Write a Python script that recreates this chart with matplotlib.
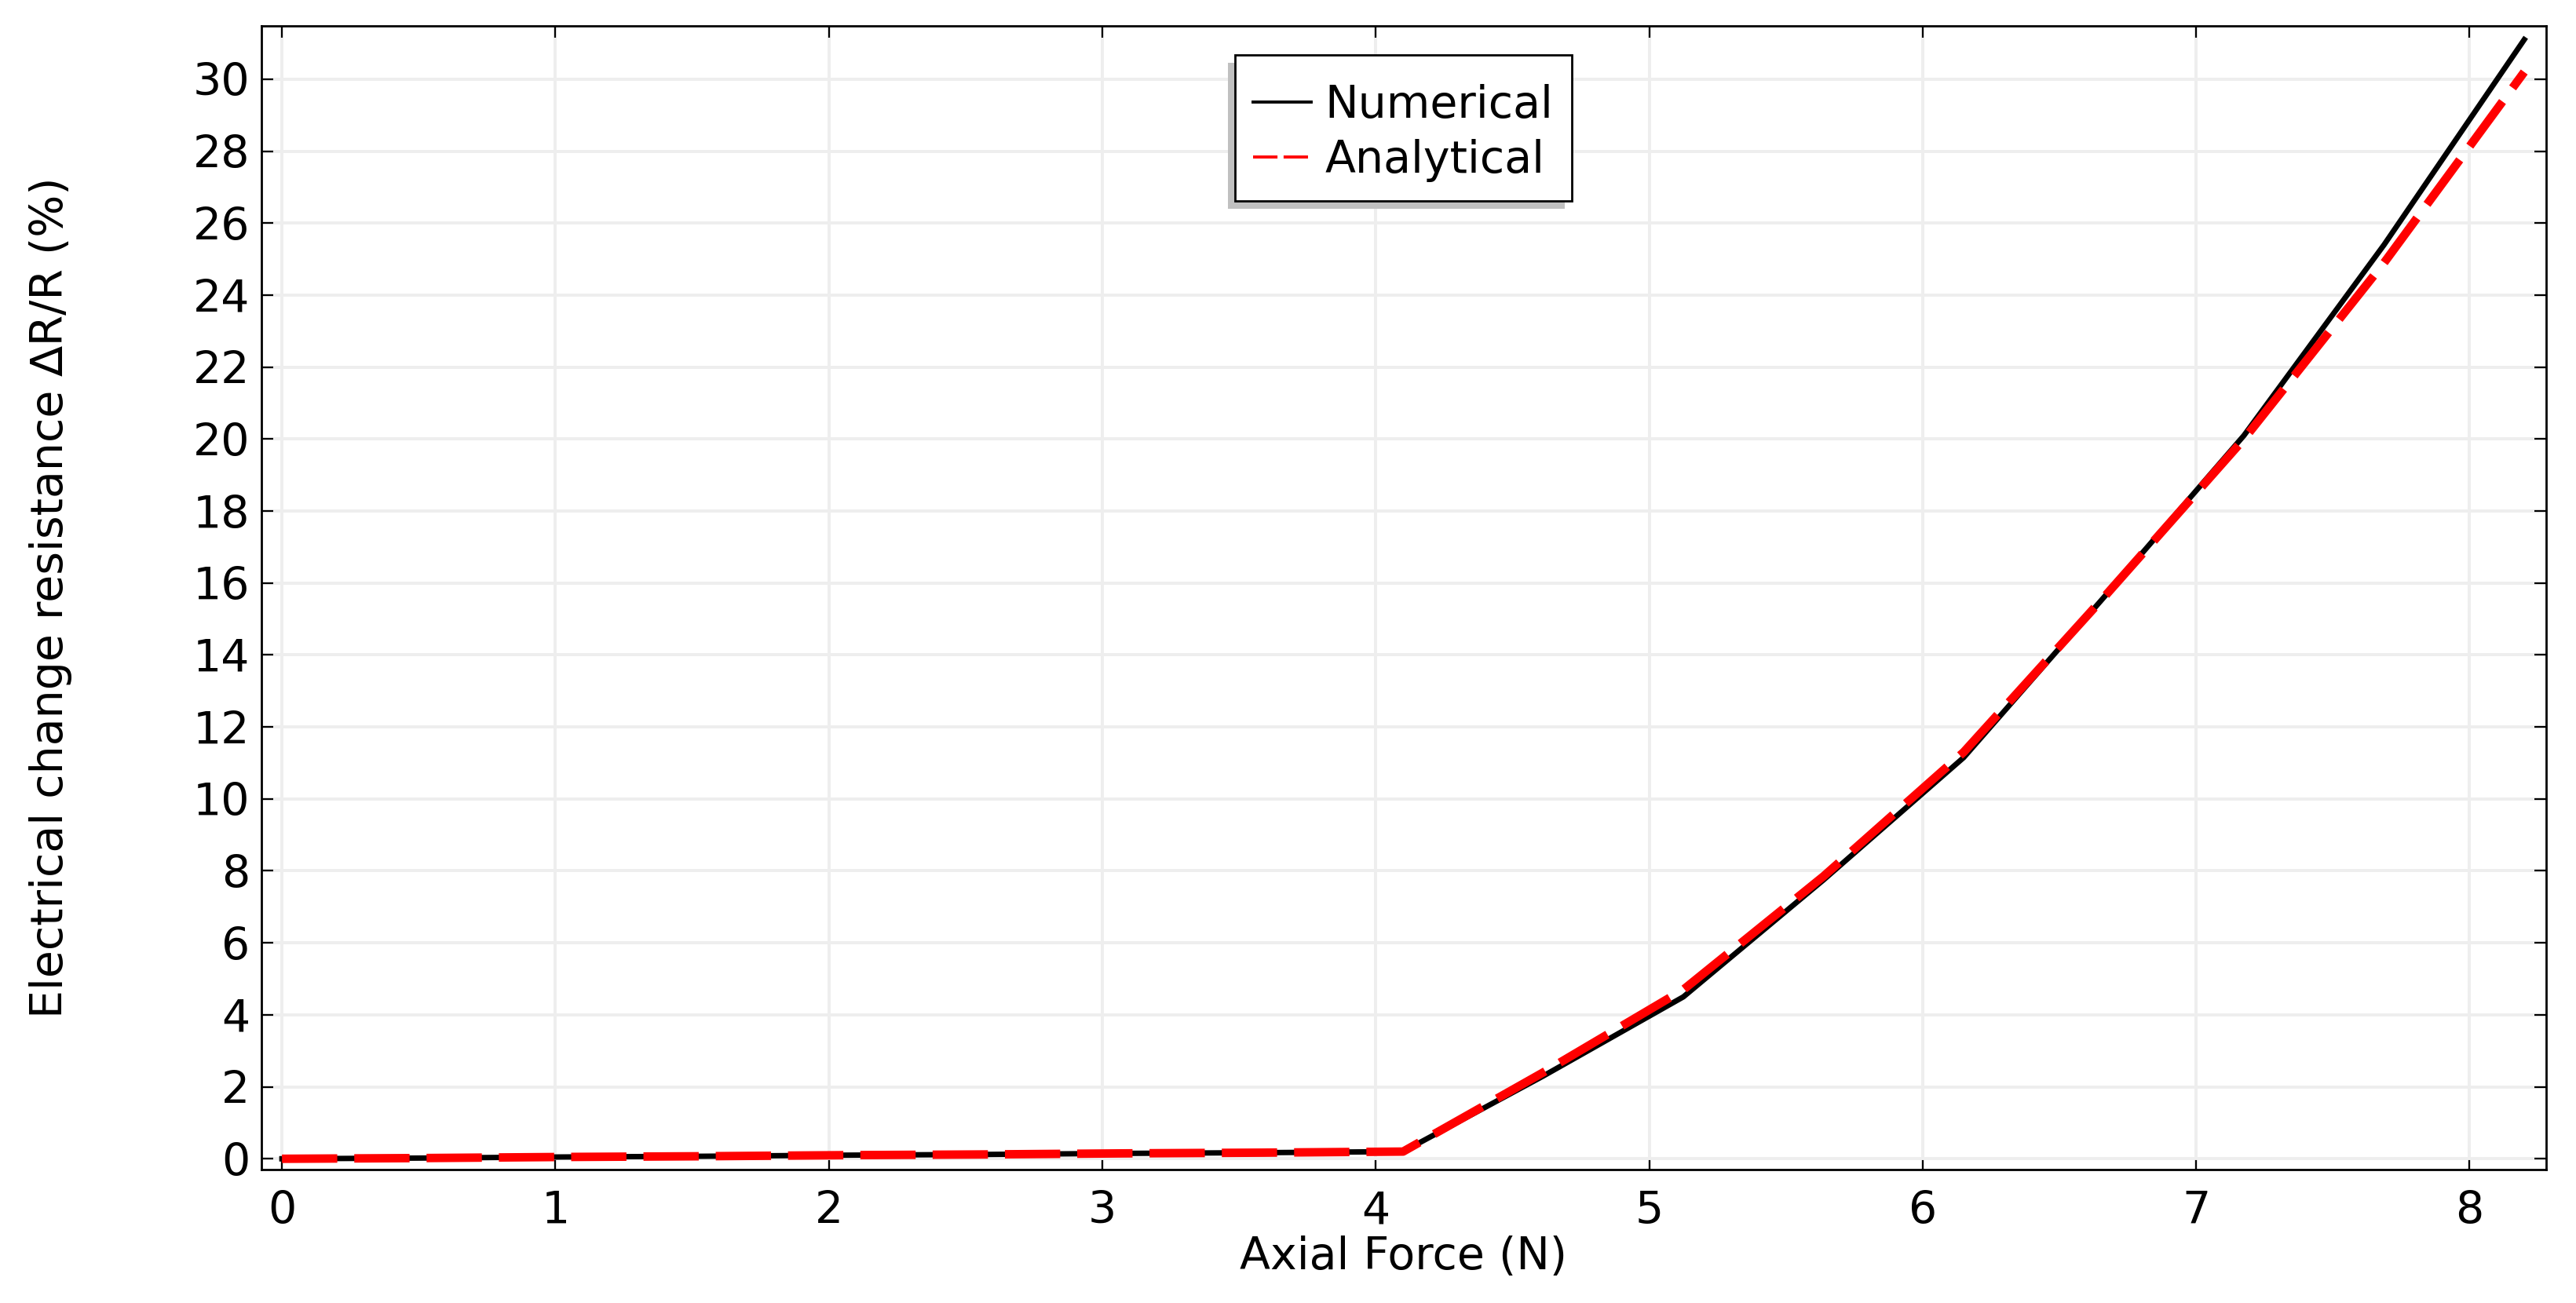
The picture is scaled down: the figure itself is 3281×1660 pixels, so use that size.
import matplotlib
matplotlib.use("Agg")
import matplotlib.pyplot as plt
from matplotlib.lines import Line2D
from matplotlib.patches import Rectangle

# axial force (N)
force = [0.0, 0.5125, 1.025, 1.5375, 2.05, 2.5625, 3.075, 3.5875, 4.1,
         4.6125, 5.125, 5.6375, 6.15, 6.6625, 7.175, 7.6875, 8.2]
# electrical change of resistance dR/R (%)
numerical = [0.0, 0.02, 0.05, 0.07, 0.1, 0.12, 0.15, 0.17, 0.2,
             2.3, 4.5, 7.75, 11.15, 15.6, 20.1, 25.4, 31.1]
analytical = [0.0, 0.02, 0.05, 0.07, 0.1, 0.12, 0.15, 0.17, 0.2,
              2.4, 4.7, 7.85, 11.3, 15.6, 20.0, 24.9, 30.2]

x_ticks = list(range(0, 9))
y_ticks = list(range(0, 31, 2))

FS = 20.5
plt.rcParams['font.family'] = ['DejaVu Sans']

fig = plt.figure(figsize=(16.405, 8.3), dpi=200)
ax = fig.add_axes([0.1015, 0.1024, 0.8869, 0.8777])

ax.plot(force, numerical, color='black', lw=2.5, zorder=3)
ax.plot(force, analytical, color='red', lw=3.9, linestyle=(0, (6.5, 2.0)), zorder=4)

ax.set_xlim(-0.075, 8.28)
ax.set_ylim(-0.3, 31.48)
ax.set_xticks(x_ticks)
ax.set_yticks(y_ticks)
ax.grid(True, color='#eeeeee', lw=1.4, zorder=0)
ax.set_axisbelow(True)

ax.tick_params(direction='in', top=True, right=True, length=5.4, width=0.8,
               labelsize=FS, colors='black')
ax.tick_params(axis='x', pad=9.4)
ax.tick_params(axis='y', pad=5.4)
for s in ax.spines.values():
    s.set_linewidth(1.0)

ax.set_xlabel("Axial Force (N)", fontsize=FS)
ax.set_ylabel("Electrical change resistance \u2206R/R (%)", fontsize=FS)
ax.xaxis.set_label_coords(0.5, -0.0577)
ax.yaxis.set_label_coords(-0.0828, 0.5)

handles = [
    Line2D([], [], color='black', lw=1.4),
    Line2D([], [], color='red', lw=1.4, linestyle=(0, (8, 2))),
]
leg = ax.legend(handles, ["Numerical", "Analytical"], loc='upper center',
                bbox_to_anchor=(0.4997, 0.9492), borderaxespad=0, fontsize=FS,
                frameon=False, handlelength=1.3, handletextpad=0.3,
                borderpad=0, labelspacing=0.27)
leg.set_zorder(7)

# frame + drop shadow (lower left) drawn by hand, pads in pixels
fig.canvas.draw()
bb = leg.get_window_extent()
pad_l, pad_r, pad_t, pad_b = 23, 24, 37, 24
x0 = bb.x0 - pad_l
y0 = bb.y0 - pad_b
w = bb.width + pad_l + pad_r
h = bb.height + pad_t + pad_b
inv = ax.transAxes.inverted()
(ax0, ay0), (ax1, ay1) = inv.transform([(x0, y0), (x0 + w, y0 + h)])
sx = -9 / ax.bbox.width
sy = -10 / ax.bbox.height
ax.add_patch(Rectangle((ax0 + sx, ay0 + sy), ax1 - ax0, ay1 - ay0,
                       transform=ax.transAxes, facecolor='#c0c0c0',
                       edgecolor='none', zorder=5))
ax.add_patch(Rectangle((ax0, ay0), ax1 - ax0, ay1 - ay0,
                       transform=ax.transAxes, facecolor='white',
                       edgecolor='black', lw=1.0, zorder=6))

fig.savefig("out.png", dpi=200)
